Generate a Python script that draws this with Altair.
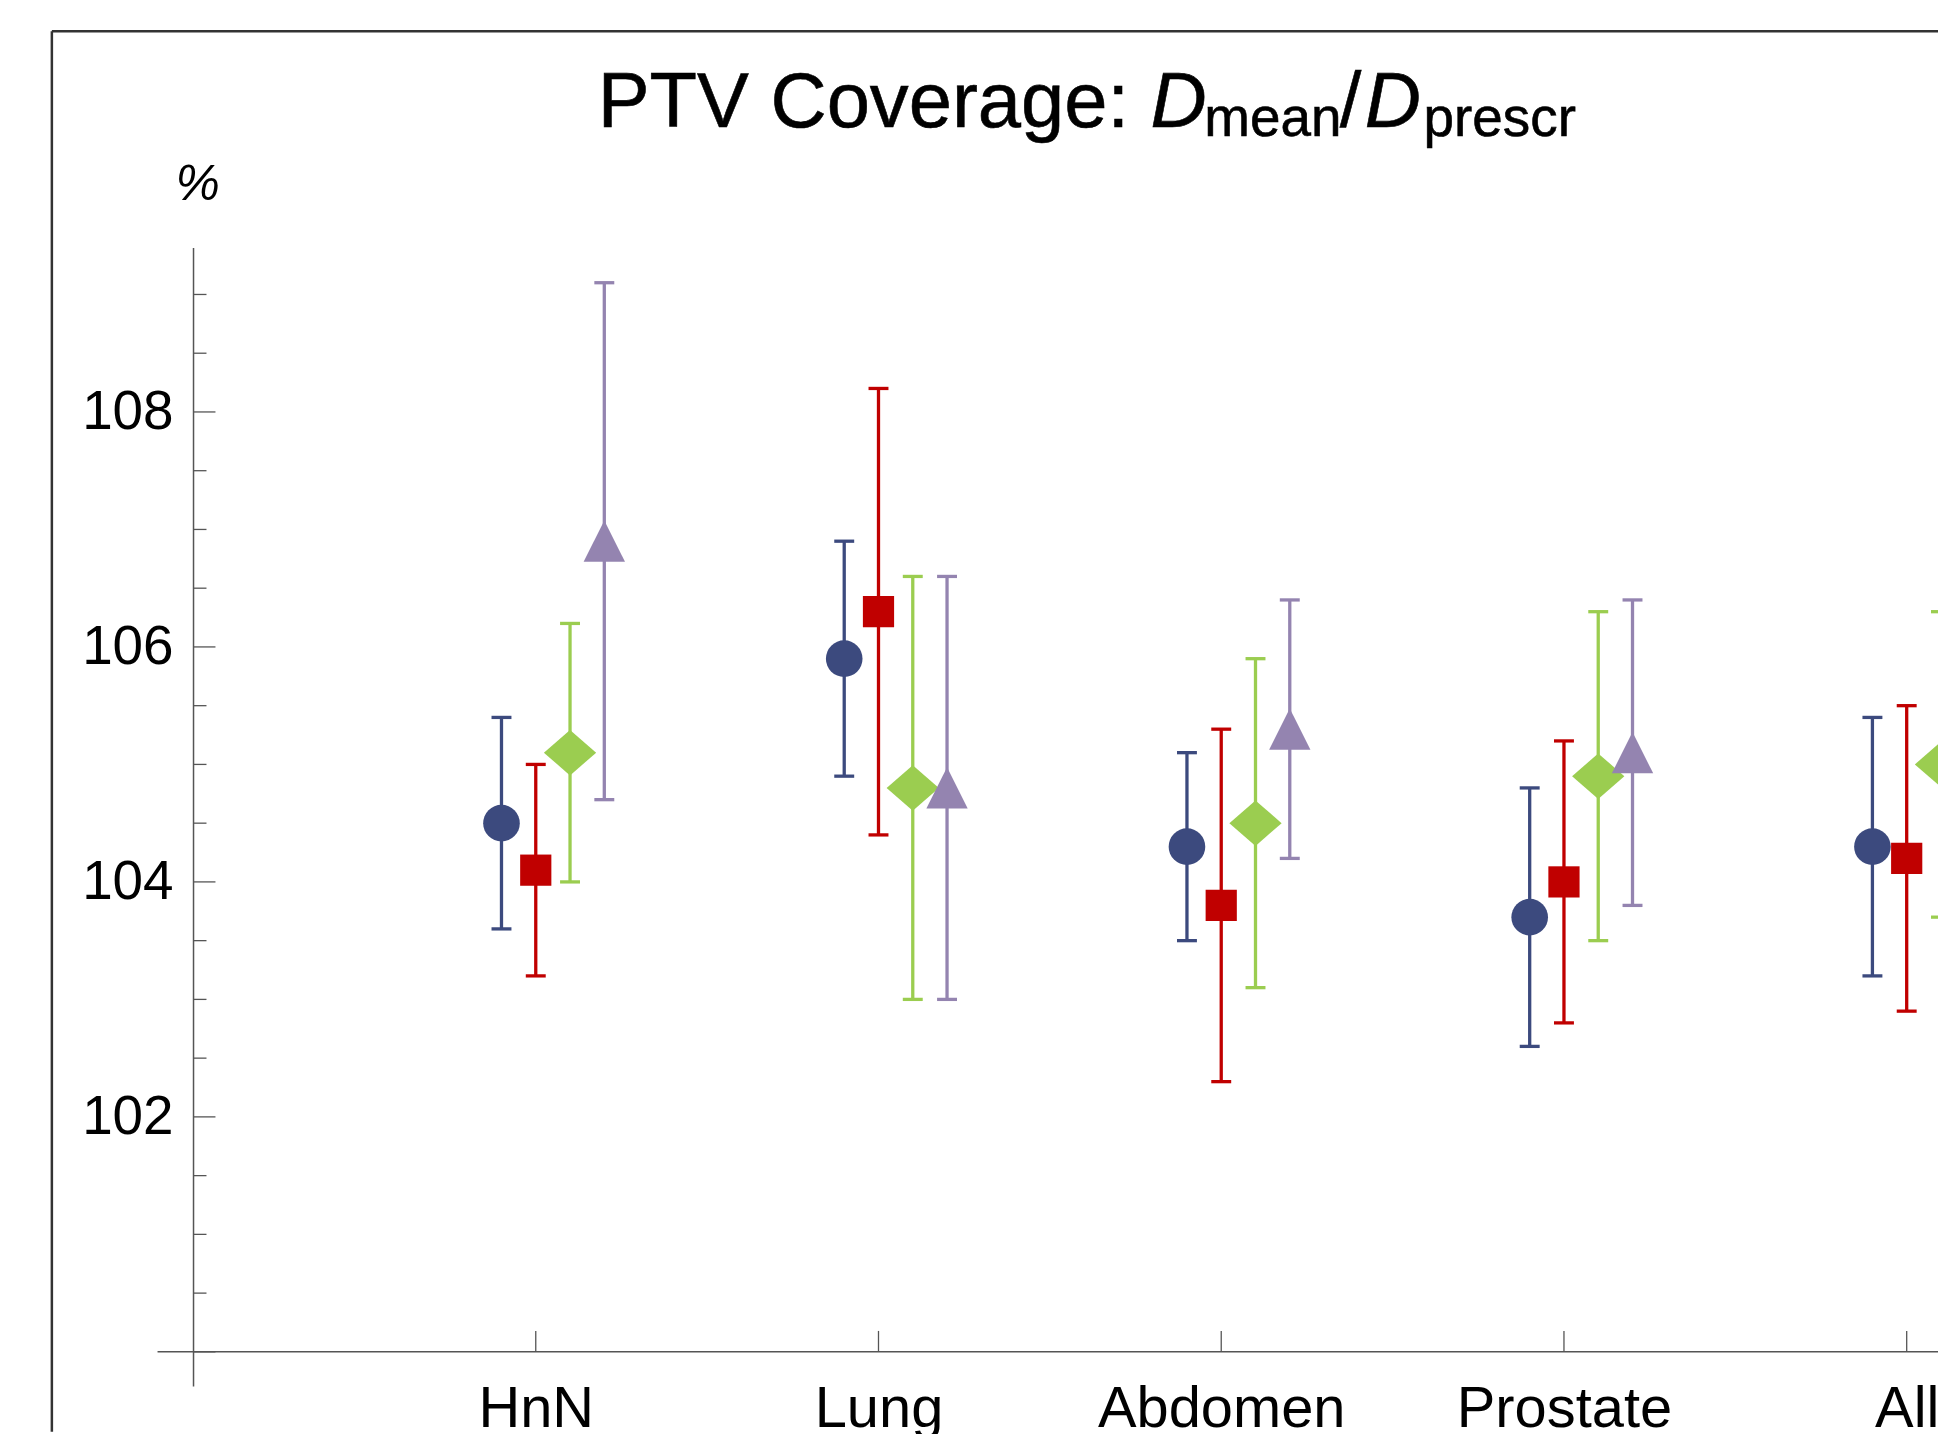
import altair as alt
import pandas as pd

# ---------------- data ----------------
categories = ["HnN", "Lung", "Abdomen", "Prostate", "All"]
series = ["Series 1", "Series 2", "Series 3", "Series 4"]

s1_mean = [104.5, 105.9, 104.3, 103.7, 104.3]
s1_lo = [103.6, 104.9, 103.5, 102.6, 103.2]
s1_hi = [105.4, 106.9, 105.1, 104.8, 105.4]

s2_mean = [104.1, 106.3, 103.8, 104.0, 104.2]
s2_lo = [103.2, 104.4, 102.3, 102.8, 102.9]
s2_hi = [105.0, 108.2, 105.3, 105.2, 105.5]

s3_mean = [105.1, 104.8, 104.5, 104.9, 105.0]
s3_lo = [104.0, 103.0, 103.1, 103.5, 103.7]
s3_hi = [106.2, 106.6, 105.9, 106.3, 106.3]

# fourth series: the "All" entry lies outside the visible picture
s4_mean = [106.9, 104.8, 105.3, 105.1]
s4_lo = [104.7, 103.0, 104.2, 103.8]
s4_hi = [109.1, 106.6, 106.4, 106.4]

y_major = [100, 102, 104, 106, 108]
y_minor = [100.5, 101, 101.5, 102.5, 103, 103.5, 104.5, 105, 105.5,
           106.5, 107, 107.5, 108.5, 109]
y_labels = [102, 104, 106, 108]
title_parts = ["PTV Coverage: ", "D", "mean", "/", "D", "prescr"]
y_unit = "%"

# ---------------- style / layout ----------------
FONT = "Liberation Sans"
colors = ["#3C4A7E", "#C00000", "#9BCD50", "#9484B0"]
shapes = ["circle", "square", "M-1,0L0,-0.87L1,0L0,0.87Z", "M0,-1L1,1L-1,1Z"]
sizes = [1350, 980, 2750, 1720]
offsets = [-0.1, 0.0, 0.1, 0.2]

PAD_L, PAD_T = 185.6, 238
SVG_W, SVG_H = 1936, 1426
W = SVG_W - PAD_L
H = 1142
PAD_B = SVG_H - PAD_T - H
PX_PER_CAT = 343.8
X_MAX = W / PX_PER_CAT
Y_TOP, Y_BOTTOM = 109.4, 99.71
PX_PER_UNIT = H / (Y_TOP - Y_BOTTOM)

all_series = [(s1_mean, s1_lo, s1_hi), (s2_mean, s2_lo, s2_hi),
              (s3_mean, s3_lo, s3_hi), (s4_mean, s4_lo, s4_hi)]
rows = []
for si, (m, lo, hi) in enumerate(all_series):
    for ci in range(len(m)):
        rows.append({"series": series[si], "cat": categories[ci],
                     "x": ci + 1 + offsets[si], "mean": m[ci], "lo": lo[ci], "hi": hi[ci]})
df = pd.DataFrame(rows)

xs = alt.Scale(domain=[0, X_MAX], nice=False, zero=False)
ys = alt.Scale(domain=[Y_BOTTOM, Y_TOP], nice=False, zero=False)
col = alt.Color("series:N", scale=alt.Scale(domain=series, range=colors), legend=None)

label_expr = "[" + ",".join(["''"] + ["'%s'" % c for c in categories]) + "][datum.value]"

x_enc = alt.X("x:Q", scale=xs, axis=alt.Axis(
    values=list(range(1, len(categories) + 1)), labelExpr=label_expr, title=None,
    domain=False, ticks=False, tickSize=0, grid=False, labelFont=FONT, labelFontSize=58,
    labelColor="black", labelPadding=41, labelBaseline="alphabetic", labelLimit=0,
    labelFlush=False, labelOverlap=False))

y_axis = alt.Axis(values=y_labels, format="d", title=None, grid=False, ticks=False,
                  tickSize=0, domain=True, domainColor="#555555", domainWidth=1.5,
                  labelFont=FONT, labelFontSize=55, labelColor="black", labelPadding=20,
                  labelLimit=0, labelFlush=False, labelOverlap=False)

bars = alt.Chart(df).mark_rule(strokeWidth=3.3, clip=True, opacity=1).encode(
    x=x_enc, y=alt.Y("lo:Q", scale=ys, axis=y_axis), y2="hi:Q", color=col)

cap_hi = alt.Chart(df).mark_tick(orient="horizontal", size=20, thickness=3.3,
                                  clip=True, opacity=1).encode(
    x=alt.X("x:Q", scale=xs), y=alt.Y("hi:Q", scale=ys), color=col)
cap_lo = alt.Chart(df).mark_tick(orient="horizontal", size=20, thickness=3.3,
                                  clip=True, opacity=1).encode(
    x=alt.X("x:Q", scale=xs), y=alt.Y("lo:Q", scale=ys), color=col)

point_layers = []
for si, s in enumerate(series):
    point_layers.append(
        alt.Chart(df[df["series"] == s]).mark_point(
            filled=True, opacity=1, strokeWidth=0, clip=True,
            shape=shapes[si], size=sizes[si], color=colors[si]).encode(
            x=alt.X("x:Q", scale=xs), y=alt.Y("mean:Q", scale=ys)))

one = pd.DataFrame({"k": [0]})

# x axis line (crosses the y axis and extends to its left)
x_line = alt.Chart(one).mark_rule(color="#555555", strokeWidth=1.5).encode(
    x=alt.value(-35.6), x2=alt.value(W), y=alt.datum(100, scale=ys))

# category ticks pointing up from the x axis
cat_df = pd.DataFrame({"i": list(range(1, len(categories) + 1))})
x_ticks = alt.Chart(cat_df).mark_rule(color="#555555", strokeWidth=1.3).encode(
    x=alt.X("i:Q", scale=xs), y=alt.datum(100, scale=ys),
    y2=alt.datum(100 + 21 / PX_PER_UNIT))

# y ticks pointing right from the y axis
ymaj = alt.Chart(pd.DataFrame({"v": y_major})).mark_rule(color="#555555", strokeWidth=1.3).encode(
    y=alt.Y("v:Q", scale=ys), x=alt.value(0), x2=alt.value(22.5))
ymin = alt.Chart(pd.DataFrame({"v": y_minor})).mark_rule(color="#555555", strokeWidth=1.3).encode(
    y=alt.Y("v:Q", scale=ys), x=alt.value(0), x2=alt.value(13.5))

# frame (top and left edges visible)
frame_top = alt.Chart(one).mark_rule(color="#333333", strokeWidth=2.5).encode(
    x=alt.value(52 - 193.6), x2=alt.value(W), y=alt.value(29 - 246))
frame_left = alt.Chart(one).mark_rule(color="#333333", strokeWidth=2.5).encode(
    x=alt.value(52 - 193.6), y=alt.value(29 - 246), y2=alt.value(H + PAD_B))

# title pieces: (x, baseline y, size, italic)
title_style = [(599.5, 125, 78, False), (1154, 125, 78, True), (1208, 134, 55, False),
               (1344, 125, 78, False), (1369, 125, 78, True), (1428, 134, 55, False)]
title_layers = []
for txt, (tx, ty, fs, it) in zip(title_parts, title_style):
    title_layers.append(alt.Chart(pd.DataFrame({"t": [txt]})).mark_text(
        align="left", baseline="alphabetic", font=FONT, fontSize=fs,
        fontStyle="italic" if it else "normal", color="black",
        stroke="black", strokeWidth=0.6).encode(
        x=alt.value(tx - 193.6), y=alt.value(ty - 246), text="t:N"))

unit_layer = alt.Chart(pd.DataFrame({"t": [y_unit]})).mark_text(
    align="left", baseline="alphabetic", font=FONT, fontSize=50, fontStyle="italic",
    color="black").encode(x=alt.value(176 - 193.6), y=alt.value(198 - 246), text="t:N")

chart = alt.layer(
    bars, cap_hi, cap_lo, *point_layers, x_line, x_ticks, ymaj, ymin,
    frame_top, frame_left, unit_layer, *title_layers
).properties(
    width=W, height=H,
    autosize=alt.AutoSizeParams(type="none"),
    padding={"left": PAD_L, "top": PAD_T, "right": 0, "bottom": PAD_B},
    background="white",
).configure_view(stroke="transparent")

chart.save("out.html", embed_options={"renderer": "svg", "actions": False})
